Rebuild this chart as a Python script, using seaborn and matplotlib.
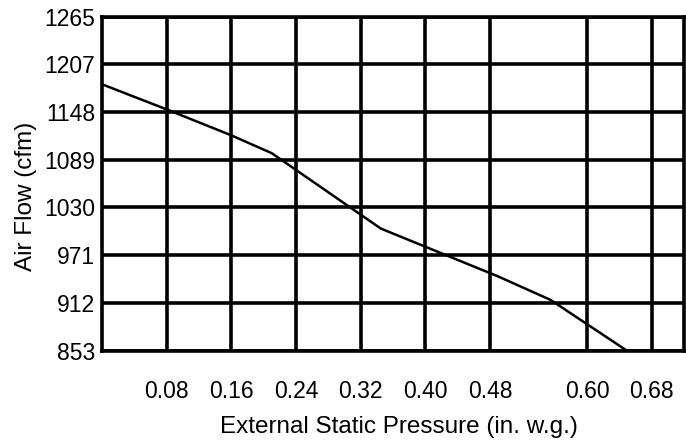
import pandas as pd
import matplotlib.pyplot as plt
import seaborn as sns

# Fan curve
pressure = [0.0, 0.08, 0.16, 0.21, 0.345, 0.49, 0.555, 0.65]
airflow = [1182, 1151, 1119, 1097, 1004, 945, 916, 853]

x_ticks = [0.08, 0.16, 0.24, 0.32, 0.40, 0.48, 0.60, 0.68]
y_ticks = [853, 912, 971, 1030, 1089, 1148, 1207, 1265]

df = pd.DataFrame({'pressure': pressure, 'airflow': airflow})

sns.set_style('white')
plt.rcParams['font.family'] = ['Liberation Sans', 'DejaVu Sans']
plt.rcParams['text.color'] = 'black'
plt.rcParams['axes.labelcolor'] = 'black'

fig, ax = plt.subplots(figsize=(6.86, 4.40), dpi=100)
fig.subplots_adjust(left=0.1487, right=0.997, top=0.9614, bottom=0.2023)

sns.lineplot(data=df, x='pressure', y='airflow', color='black', lw=1.8, ax=ax)

ax.set_xlim(0, 0.72)
ax.set_ylim(853, 1265)
ax.set_xticks(x_ticks)
ax.set_xticklabels([f'{t:.2f}' for t in x_ticks])
ax.set_yticks(y_ticks)
ax.set_yticklabels([str(t) for t in y_ticks])

ax.grid(True, color='black', lw=2.6)
ax.set_axisbelow(True)
for s in ax.spines.values():
    s.set_color('black')
    s.set_linewidth(2.6)

ax.tick_params(axis='both', length=0, labelsize=16.5, colors='black')
ax.tick_params(axis='x', pad=21)
ax.tick_params(axis='y', pad=5)

ax.set_xlabel('External Static Pressure (in. w.g.)', fontsize=17.5)
ax.set_ylabel('Air Flow (cfm)', fontsize=17.5)
ax.xaxis.set_label_coords(0.51, -0.196)
ax.yaxis.set_label_coords(-0.112, 0.463)

plt.savefig('out.png', dpi=100)
